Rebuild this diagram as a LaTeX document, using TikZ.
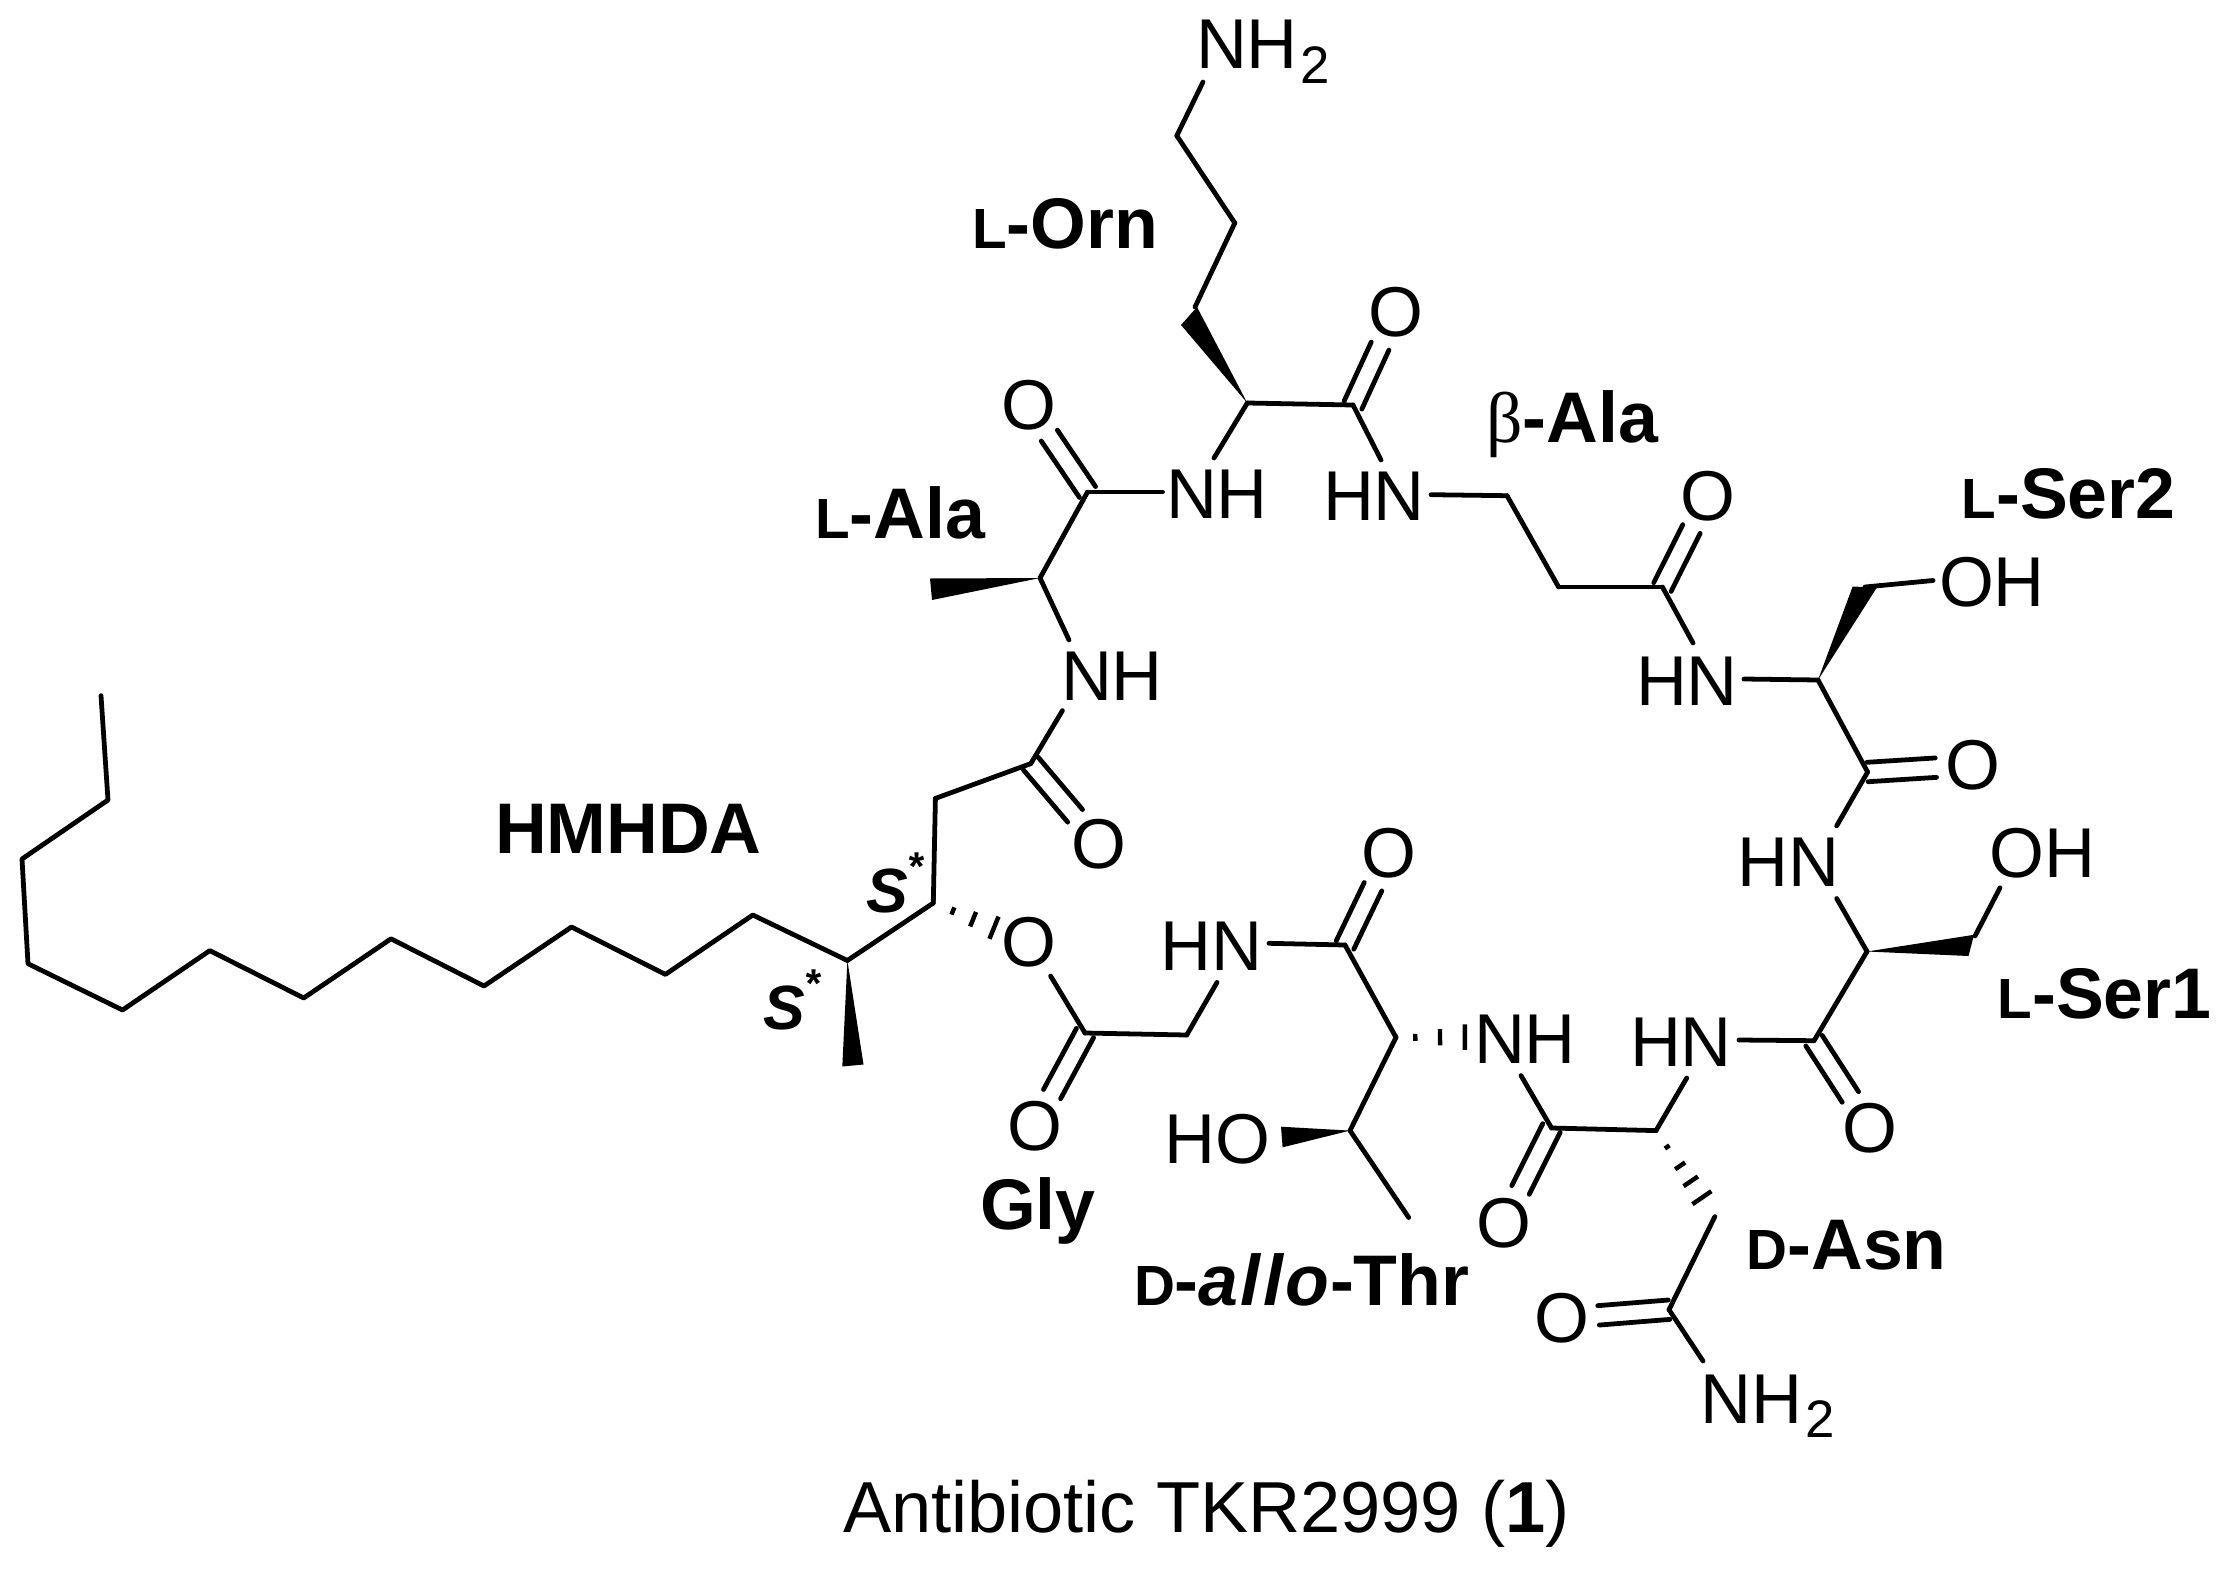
\documentclass[tikz,border=0pt]{standalone}
\usepackage{fontspec}
\setmainfont{Liberation Sans}
\newfontfamily\betafont{Liberation Serif}
\usetikzlibrary{calc}
\newcommand\smcap[1]{{\fontsize{20.4}{24}\selectfont #1}}
\newcommand\subtwo{\kern1pt\raisebox{-5.2pt}{\fontsize{19}{22}\selectfont 2}}
\newcommand\sstar[1]{{\fontsize{22.5}{26}\selectfont\bfseries\itshape #1\raisebox{11.4pt}{\fontsize{14.5}{16}\selectfont *}}}
\tikzset{
  bond/.style={line width=1.72pt,line cap=round,line join=round},
  atom/.style={inner sep=0pt,outer sep=0pt,font=\fontsize{25.4}{30}\selectfont},
  atomw/.style={atom,anchor=base west},
  lbl/.style={inner sep=0pt,outer sep=0pt,anchor=base west,font=\fontsize{25.8}{30}\selectfont\bfseries},
}
% double bond: carbon #1, oxygen #2
\newcommand\dbl[2]{%
  \draw[bond,shorten >=13.3pt] ($(#1.center)!3.5pt!90:(#2.center)$) -- ($(#2.center)!3.5pt!-90:(#1.center)$);
  \draw[bond,shorten >=13.3pt] ($(#1.center)!3.5pt!-90:(#2.center)$) -- ($(#2.center)!3.5pt!90:(#1.center)$);
}
% hashed bond: from #1 towards #2, fractions #3, half width per unit fraction #4 (pt)
\newcommand\hashb[4]{%
  \foreach \f in {#3}{
    \pgfmathsetmacro\hw{\f*#4}
    \draw[line width=1.6pt] ($(#1)!\f!(#2)!\hw pt!90:(#2)$) -- ($(#1)!\f!(#2)!\hw pt!-90:(#2)$);
  }
}
\begin{document}
\begin{tikzpicture}[x=.36pt,y=-.36pt]
\useasboundingbox (0,0) rectangle (2223,1569);
% ---- carbon vertices
\foreach \n/\x/\y in {
  oa/1176.8/135.7, ob/1234.8/223, oc/1195/307, caorn/1247.3/403, coorn/1353/405,
  ba/1507/495.7, bb/1558.6/587, cob/1662.4/587,
  cas2/1818/680, cs2/1865/587, cos2/1867.6/772,
  cas1/1867/951.5, cs1/1975/936, cos1/1814/1040.7,
  caasn/1656/1130.6, coasn/1551.5/1128, casn/1714.8/1216.6, coam/1669/1309.7,
  cathr/1396/1037.4, cothr/1345/945, ct/1350/1130.6, met/1408.7/1217.5,
  cgly/1186.7/1035, cogly/1085/1033,
  coala/1087.5/492, caala/1040/578, meala/931/589,
  cohm/1030.8/763.6, chm/935.4/798.4, ch/933.3/903, cm/847.4/960.5, mem/853/1065.5,
  z1/101/695.6, z2/108/800, z3/22/859, z4/28/963.7, z5/122.5/1010, z6/209.8/950.6,
  z7/303.7/998, z8/391/938.8, z9/484/986, z10/571.5/927, z11/665.4/974.4, z12/752.8/915}
  {\coordinate (\n) at (\x,\y);}
% ---- hetero atoms
\node[atomw] (NHt) at (1196,68.6) {NH\subtwo};
\node[atomw] (NHa) at (1166,518.6) {NH};
\node[atomw] (HNb) at (1323,520.7) {HN};
\node[atomw] (HNc) at (1636,705) {HN};
\node[atomw] (OHc) at (1939,606) {OH};
\node[atomw] (HNd) at (1737.5,886.6) {HN};
\node[atomw] (OHd) at (1989.5,877) {OH};
\node[atomw] (HNe) at (1630,1066) {HN};
\node[atomw] (NHf) at (1474,1063.7) {NH};
\node[atomw] (HOg) at (1164.5,1163) {HO};
\node[atomw] (HNh) at (1160.5,970.5) {HN};
\node[atomw] (NHb) at (1700.6,1423) {NH\subtwo};
\node[atomw] (NHg) at (1061,700) {NH};
\node[atom] (Oorn) at (1395.5,312.5) {O};
\node[atom] (Oala) at (1028.6,405) {O};
\node[atom] (Ob) at (1708,496) {O};
\node[atom] (Os2) at (1972.7,765.3) {O};
\node[atom] (Os1) at (1870.4,1128) {O};
\node[atom] (Oasn) at (1504,1223) {O};
\node[atom] (Oam) at (1561.7,1318.3) {O};
\node[atom] (Othr) at (1389,853.4) {O};
\node[atom] (Ogly) at (1034.5,1126.6) {O};
\node[atom] (Oe) at (1029,942) {O};
\node[atom] (Ohm) at (1099,844) {O};
% ---- labels
\node[lbl] (lOrn) at (972,248) {\smcap{L}-Orn};
\node[lbl] (lbeta) at (1486,442) {{\betafont\mdseries β}-Ala};
\node[lbl] (lAla) at (815,538) {\smcap{L}-Ala};
\node[lbl] (lS2) at (1961.5,518.5) {\smcap{L}-Ser2};
\node[lbl] (lS1) at (1997.5,1018.6) {\smcap{L}-Ser1};
\node[lbl] (lHM) at (495,853.7) {HMHDA};
\node[lbl] (lGly) at (980,1229.4) {Gly};
\node[lbl] (lThr) at (1134,1305) {\smcap{D}-{\itshape a\kern.8pt l\kern.8pt l\kern.8pt o\kern.4pt}-Thr};
\node[lbl] (lAsn) at (1746.5,1269) {\smcap{D}-Asn};
\node[lbl] (lS) at (866,912) {\sstar{S}};
\node[lbl] (lSb) at (763,1029) {\sstar{S}};
\node[atomw,font=\fontsize{26}{30}\selectfont] (cap) at (843,1532) {Antibiotic TKR2999 ({\bfseries 1})};
% ---- single bonds
\draw[bond] (oa) -- ([shift={(7,13.4)}]NHt.base west);
\draw[bond] (oa) -- (ob);
\draw[bond] (ob) -- (oc);
\draw[bond] (caorn) -- (coorn);
\draw[bond] (caorn) -- ([shift={(48,-60.6)}]NHa.base west);
\draw[bond] ([shift={(-3.5,-26.6)}]NHa.base west) -- (coala);
\draw[bond] (coorn) -- ([shift={(58,-60.7)}]HNb.base west);
\draw[bond] ([shift={(108,-26)}]HNb.base west) -- (ba);
\draw[bond] (ba) -- (bb);
\draw[bond] (bb) -- (cob);
\draw[bond] (cob) -- ([shift={(57,-62)}]HNc.base west);
\draw[bond] ([shift={(108,-26)}]HNc.base west) -- (cas2);
\draw[bond] (cs2) -- ([shift={(-6,-25.5)}]OHc.base west);
\draw[bond] (cas2) -- (cos2);
\draw[bond] (cos2) -- ([shift={(99.2,-60.8)}]HNd.base west);
\draw[bond] ([shift={(99.2,11.9)}]HNd.base west) -- (cas1);
\draw[bond] (cs1) -- ([shift={(10.5,10.8)}]OHd.base west);
\draw[bond] (cas1) -- (cos1);
\draw[bond] (cos1) -- ([shift={(109,-26)}]HNe.base west);
\draw[bond] ([shift={(56.7,12)}]HNe.base west) -- (caasn);
\draw[bond] (caasn) -- (coasn);
\draw[bond] (coasn) -- ([shift={(47,11.9)}]NHf.base west);
\draw[bond] (casn) -- (coam);
\draw[bond] (coam) -- ([shift={(2.4,-62)}]NHb.base west);
\draw[bond] (cathr) -- (cothr);
\draw[bond] (cothr) -- ([shift={(108.5,-27.2)}]HNh.base west);
\draw[bond] ([shift={(56.5,11.9)}]HNh.base west) -- (cgly);
\draw[bond] (cgly) -- (cogly);
\draw[bond] (cathr) -- (ct);
\draw[bond] (ct) -- (met);
\draw[bond] ([shift={(21.6,34)}]Oe.center) -- (cogly);
\draw[bond] (coala) -- (caala);
\draw[bond] (caala) -- ([shift={(8,-60)}]NHg.base west);
\draw[bond] ([shift={(1.4,10.6)}]NHg.base west) -- (cohm);
\draw[bond] (cohm) -- (chm);
\draw[bond] (chm) -- (ch);
\draw[bond] (ch) -- (cm);
\draw[bond] (cm) -- (z12) -- (z11) -- (z10) -- (z9) -- (z8) -- (z7) -- (z6) -- (z5) -- (z4) -- (z3) -- (z2) -- (z1);
% ---- double bonds
\dbl{coorn}{Oorn}
\dbl{coala}{Oala}
\dbl{cob}{Ob}
\dbl{cos2}{Os2}
\dbl{cos1}{Os1}
\dbl{coasn}{Oasn}
\dbl{coam}{Oam}
\dbl{cothr}{Othr}
\dbl{cogly}{Ogly}
\dbl{cohm}{Ohm}
% ---- wedges
\fill (caorn) -- ([shift={(-14,18)}]oc) -- ([shift={(2,0)}]oc) -- cycle;
\fill (cas2) -- ([shift={(-12.4,-.4)}]cs2) -- ([shift={(12,.3)}]cs2) -- cycle;
\fill (cas1) -- ([shift={(-1,-1.2)}]cs1) -- ([shift={(-6.5,20)}]cs1) -- cycle;
\fill (cm) -- ([shift={(-10.7,1)}]mem) -- ([shift={(10.5,-1)}]mem) -- cycle;
\fill (caala) -- ([shift={(-1,-10.5)}]meala) -- ([shift={(1,11)}]meala) -- cycle;
\fill (ct) -- ([shift={(116.5,-36.3)}]HOg.base west) -- ([shift={(118.1,-15.7)}]HOg.base west) -- cycle;
% ---- hashed bonds
\coordinate (hN) at ([shift={(5,-26.7)}]NHf.base west);
\hashb{cathr}{hN}{.232,.53,.83}{5.5}
\hashb{caasn}{casn}{.19,.41,.59,.78}{5.3}
\hashb{ch}{Oe}{.205,.416,.634}{6.8}
\end{tikzpicture}
\end{document}
